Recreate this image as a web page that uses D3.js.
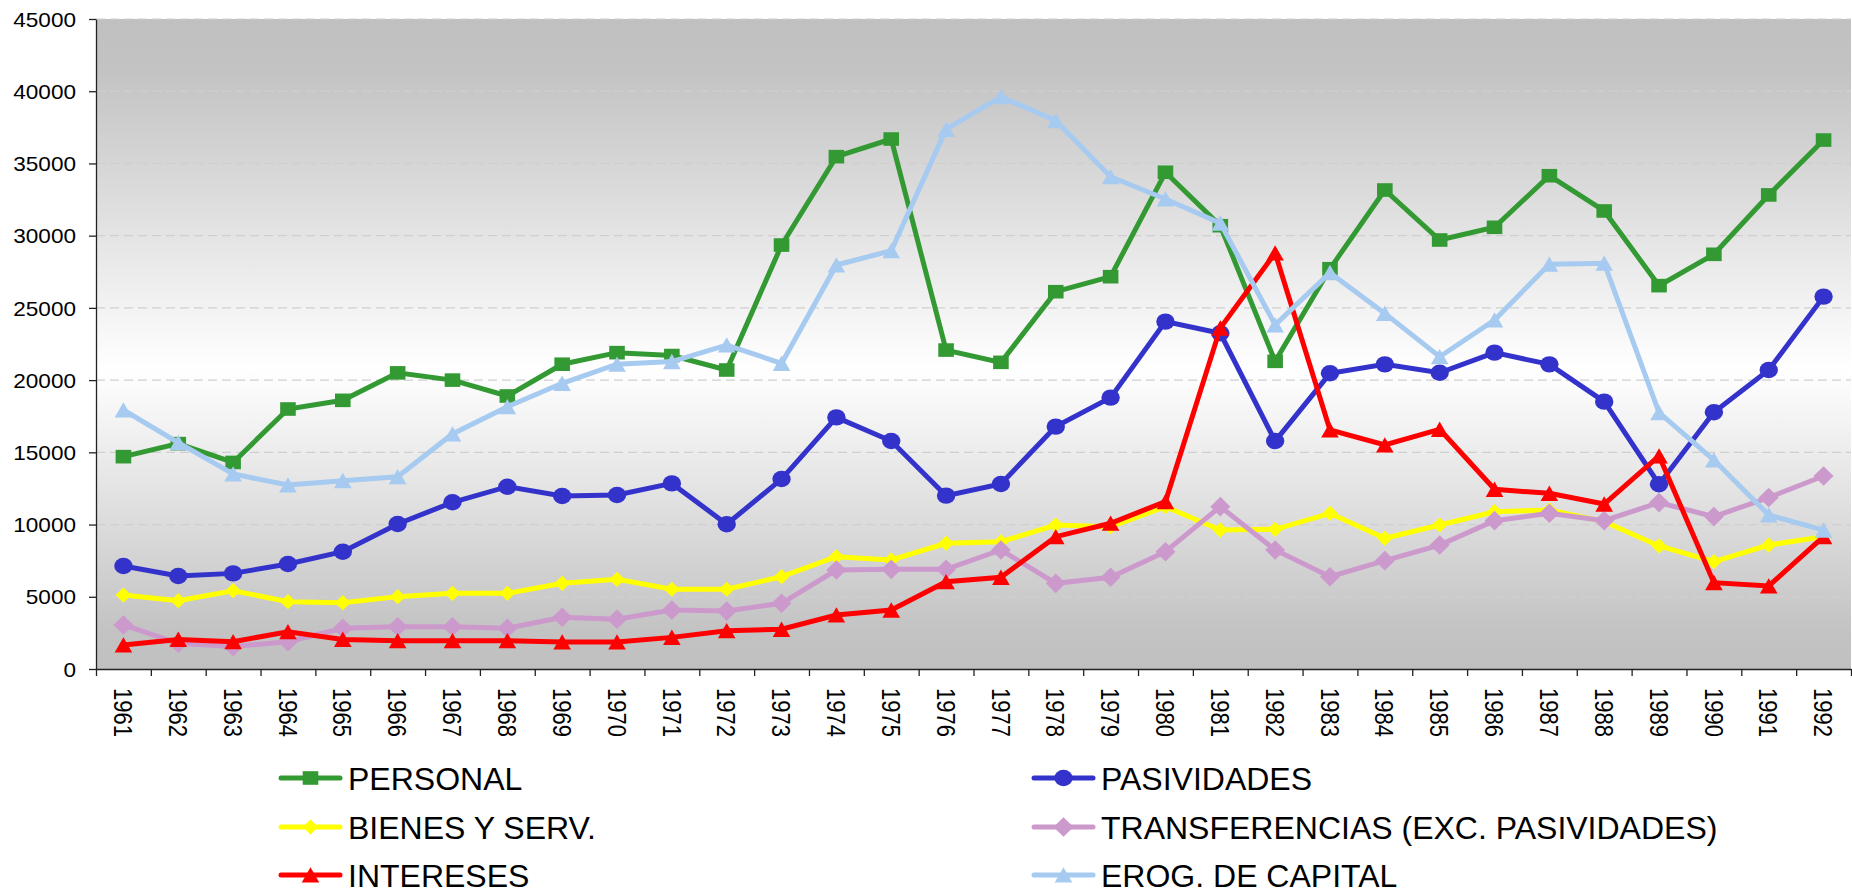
<!DOCTYPE html>
<html>
<head>
<meta charset="utf-8">
<script src="https://cdn.jsdelivr.net/npm/d3@7"></script>
<style>
  body { margin: 0; background: #fff; }
  svg { display: block; font-family: "Liberation Sans", Arial, sans-serif; }
</style>
</head>
<body>
<div id="chart"></div>
<script>
// data
var years = ["1961", "1962", "1963", "1964", "1965", "1966", "1967", "1968", "1969", "1970",
             "1971", "1972", "1973", "1974", "1975", "1976", "1977", "1978", "1979", "1980",
             "1981", "1982", "1983", "1984", "1985", "1986", "1987", "1988", "1989", "1990",
             "1991", "1992"];

var personal = [14700, 15600, 14300, 18000, 18600, 20500, 20000, 18900, 21100, 21900,
                21700, 20700, 29350, 35470, 36690, 22080, 21230, 26120, 27160, 34390,
                30690, 21300, 27710, 33160, 29700, 30580, 34150, 31710, 26540, 28710,
                32820, 36620];
var pasividades = [7130, 6440, 6620, 7270, 8120, 10040, 11540, 12620, 11980, 12050,
                   12850, 10020, 13150, 17420, 15780, 12000, 12810, 16780, 18790, 24050,
                   23240, 15780, 20470, 21090, 20510, 21900, 21090, 18510, 12790, 17770,
                   20700, 25780];
var bienes = [5120, 4730, 5420, 4660, 4590, 5010, 5240, 5240, 5930, 6210,
              5520, 5520, 6390, 7770, 7550, 8700, 8810, 9970, 9850, 11240,
              9620, 9670, 10780, 9050, 9970, 10890, 11010, 10200, 8520, 7430,
              8580, 9160];
var transferencias = [3050, 1780, 1550, 1890, 2820, 2930, 2930, 2820, 3580, 3440,
                      4080, 4010, 4550, 6850, 6900, 6900, 8240, 5930, 6350, 8120,
                      11240, 8240, 6390, 7500, 8580, 10270, 10780, 10270, 11520, 10550,
                      11870, 13360];
var intereses = [1660, 2050, 1890, 2580, 2050, 1960, 1960, 1960, 1870, 1870,
                 2190, 2650, 2750, 3740, 4080, 6040, 6350, 9160, 10090, 11590,
                 23600, 28800, 16550, 15510, 16590, 12440, 12160, 11420, 14750, 5980,
                 5750, 9160];
var erog = [17930, 15670, 13500, 12740, 13040, 13310, 16270, 18160, 19780, 21100,
            21280, 22430, 21160, 27970, 28960, 37360, 39620, 37960, 34080, 32540,
            30870, 23820, 27440, 24620, 21620, 24160, 28020, 28090, 17750, 14470,
            10660, 9620];

var yTicks = [0, 5000, 10000, 15000, 20000, 25000, 30000, 35000, 40000, 45000];

var seriesNames = ["PERSONAL", "PASIVIDADES", "BIENES Y SERV.", "TRANSFERENCIAS (EXC. PASIVIDADES)", "INTERESES", "EROG. DE CAPITAL"];
var seriesValues = [personal, pasividades, bienes, transferencias, intereses, erog];
var seriesColors = ["#339933", "#3333cc", "#ffff00", "#cc99cc", "#ff0000", "#a6caf0"];
var seriesMarkers = ["square", "circle", "smalldiamond", "diamond", "triangle", "triangle"];

var width = 1852, height = 893;
var plotLeft = 96, plotRight = 1851, plotTop = 19, plotBottom = 669;

var svg = d3.select("#chart").append("svg")
    .attr("width", width)
    .attr("height", height);

var x = d3.scaleBand().domain(years).range([plotLeft, plotRight]).padding(0);
var xEdge = d3.scaleLinear().domain([0, years.length]).range([plotLeft, plotRight]);
var y = d3.scaleLinear().domain([0, 45000]).range([plotBottom, plotTop]);

// plot background gradient
var grad = svg.append("defs").append("linearGradient")
    .attr("id", "bg")
    .attr("x1", 0).attr("y1", 0).attr("x2", 0).attr("y2", 1);
grad.append("stop").attr("offset", "0").attr("stop-color", "#c0c0c0");
grad.append("stop").attr("offset", "0.08").attr("stop-color", "#c3c3c3");
grad.append("stop").attr("offset", "0.54").attr("stop-color", "#ffffff");
grad.append("stop").attr("offset", "0.94").attr("stop-color", "#c3c3c3");
grad.append("stop").attr("offset", "1").attr("stop-color", "#c0c0c0");

svg.append("rect")
    .attr("x", plotLeft).attr("y", plotTop)
    .attr("width", plotRight - plotLeft).attr("height", plotBottom - plotTop)
    .attr("fill", "url(#bg)");

// gridlines
svg.append("g").selectAll("line")
    .data(yTicks.filter(function (d) { return d > 0; }))
    .enter().append("line")
    .attr("x1", plotLeft).attr("x2", plotRight)
    .attr("y1", function (d) { return y(d); })
    .attr("y2", function (d) { return y(d); })
    .attr("stroke", "#cfcfcf")
    .attr("stroke-width", 1.2)
    .attr("stroke-dasharray", "9,5");

// y axis
var yAxis = svg.append("g")
    .attr("transform", "translate(" + plotLeft + ",0)")
    .call(d3.axisLeft(y).tickValues(yTicks).tickSize(7).tickSizeOuter(0).tickFormat(d3.format("d")));
yAxis.select(".domain").attr("stroke", "#222").attr("stroke-width", 1.3);
yAxis.selectAll(".tick line").attr("stroke", "#222").attr("stroke-width", 1.3);
yAxis.selectAll(".tick text")
    .attr("x", -17.7)
    .attr("dy", "0.36em")
    .attr("transform", "scale(1.13,1)")
    .attr("fill", "#000")
    .style("font-size", "20px")
    .style("font-family", "'Liberation Sans', Arial, sans-serif");

// x axis tick marks between categories
var xTicks = svg.append("g")
    .attr("transform", "translate(0," + plotBottom + ")")
    .call(d3.axisBottom(xEdge).tickValues(d3.range(years.length + 1)).tickSize(7).tickSizeOuter(0).tickFormat(""));
xTicks.select(".domain").attr("stroke", "#222").attr("stroke-width", 1.3);
xTicks.selectAll(".tick line").attr("stroke", "#222").attr("stroke-width", 1.3);

// x labels
var xLabels = svg.append("g")
    .attr("transform", "translate(0," + plotBottom + ")")
    .call(d3.axisBottom(x).tickSize(0).tickSizeOuter(0));
xLabels.select(".domain").remove();
xLabels.selectAll(".tick text")
    .attr("x", 19)
    .attr("y", 0)
    .attr("dy", "0.36em")
    .attr("text-anchor", "start")
    .attr("transform", "scale(1.18,1) rotate(90)")
    .attr("fill", "#000")
    .style("font-size", "22px")
    .style("font-family", "'Liberation Sans', Arial, sans-serif");

function markerPath(type) {
    if (type == "square") return "M-7.8,-6.8h15.6v13.6h-15.6z";
    if (type == "circle") return "M-9.2,0a9.2,8.2 0 1,0 18.4,0a9.2,8.2 0 1,0 -18.4,0z";
    if (type == "smalldiamond") return "M0,-7.6L7.8,0L0,7.6L-7.8,0z";
    if (type == "diamond") return "M0,-9.8L10,0L0,9.8L-10,0z";
    return "M0,-7.8L8.8,7.6L-8.8,7.6z";
}

var line = d3.line()
    .x(function (d, i) { return x(years[i]) + x.bandwidth() / 2; })
    .y(function (d) { return y(d); });

seriesValues.forEach(function (vals, k) {
    var g = svg.append("g");
    g.append("path")
        .datum(vals)
        .attr("d", line)
        .attr("fill", "none")
        .attr("stroke", seriesColors[k])
        .attr("stroke-width", 5)
        .attr("stroke-linejoin", "miter");
    g.selectAll("path.m")
        .data(vals)
        .enter().append("path")
        .attr("class", "m")
        .attr("d", markerPath(seriesMarkers[k]))
        .attr("transform", function (d, i) {
            return "translate(" + (x(years[i]) + x.bandwidth() / 2) + "," + y(d) + ")";
        })
        .attr("fill", seriesColors[k]);
});

// legend, two columns
var legendX = [279, 1032];
var legendY = [778, 827, 875];
seriesNames.forEach(function (name, k) {
    var lx = legendX[k % 2], ly = legendY[Math.floor(k / 2)];
    var lg = svg.append("g").attr("transform", "translate(" + lx + "," + ly + ")");
    lg.append("line")
        .attr("x1", 2).attr("x2", 61)
        .attr("y1", 0).attr("y2", 0)
        .attr("stroke", seriesColors[k])
        .attr("stroke-width", 5)
        .attr("stroke-linecap", "round");
    lg.append("path")
        .attr("d", markerPath(seriesMarkers[k]))
        .attr("transform", "translate(31.5,0)")
        .attr("fill", seriesColors[k]);
    lg.append("text")
        .attr("x", 69)
        .attr("y", 0)
        .attr("dy", "0.36em")
        .attr("fill", "#000")
        .style("font-size", "32px")
        .text(name);
});
</script>
</body>
</html>
